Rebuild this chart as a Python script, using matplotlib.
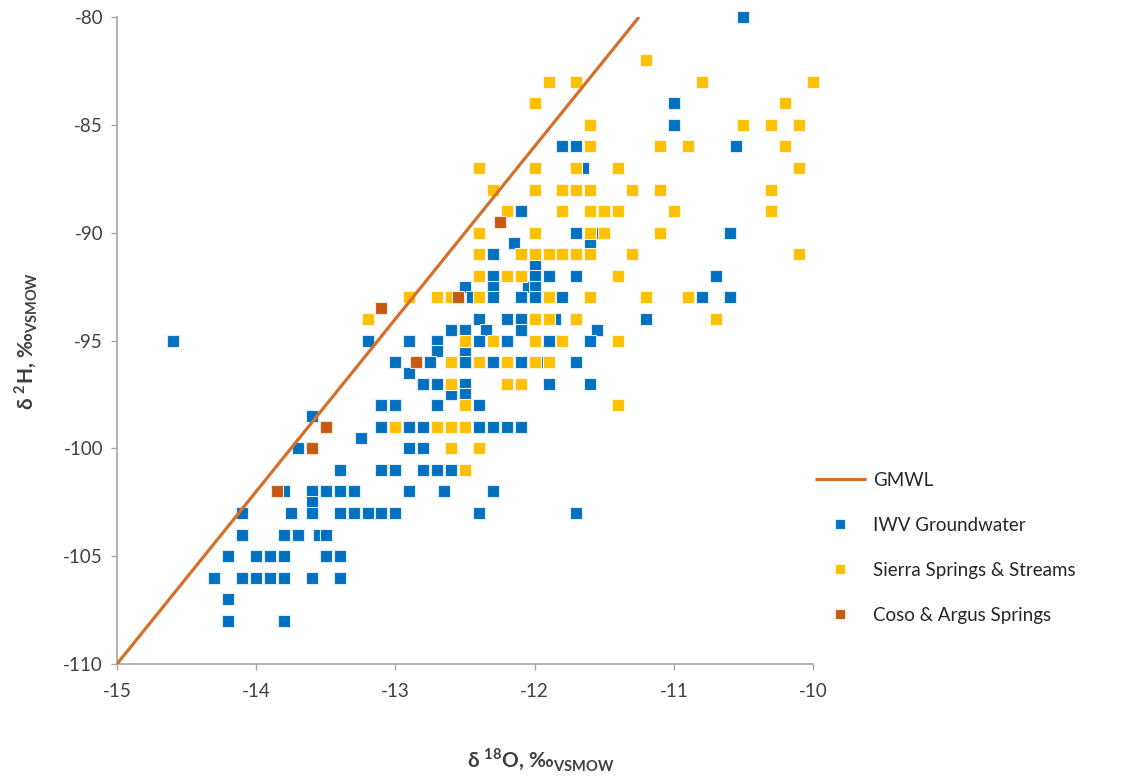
import matplotlib
matplotlib.use("Agg")
import matplotlib.pyplot as plt

plt.rcParams['font.family'] = ['Lato', 'DejaVu Sans']
plt.rcParams['mathtext.fontset'] = 'custom'
plt.rcParams['mathtext.rm'] = 'Lato'
plt.rcParams['mathtext.bf'] = 'Lato:bold'
plt.rcParams['axes.unicode_minus'] = False

# global meteoric water line end points
gmwl_o18 = [-15.0, -11.25]
gmwl_h2 = [-110.0, -80.0]

# IWV groundwater (d18O, d2H)
iwv_o18 = [-10.5, -11.0, -11.0, -11.8, -11.7, -10.55, -11.65, -12.1,
           -11.7, -11.55, -10.6, -12.15, -11.6, -12.3, -12.0,
           -12.3, -12.0, -11.9, -11.7, -10.7,
           -12.5, -12.3, -12.05, -12.0,
           -12.45, -12.3, -12.1, -12.0, -11.8, -11.2, -10.8, -10.6,
           -12.4, -12.2, -12.1, -11.85, -11.7, -11.2,
           -12.6, -12.5, -12.35, -12.1, -11.55,
           -14.6, -13.2, -12.9, -12.7, -12.4, -12.2, -11.9, -11.6,
           -12.7, -12.5,
           -13.0, -12.75, -12.5, -12.3, -12.1, -11.95, -11.7,
           -12.9,
           -12.8, -12.7, -12.5, -11.9, -11.6,
           -12.6, -12.5,
           -13.1, -13.0, -12.7, -12.4,
           -13.6,
           -13.1, -12.9, -12.8, -12.4, -12.3, -12.2, -12.1,
           -13.25,
           -13.7, -12.9, -12.8,
           -13.4, -13.1, -13.0, -12.8, -12.7, -12.6,
           -13.8, -13.6, -13.5, -13.4, -13.3, -12.9, -12.65, -12.3, -13.6,
           -14.1, -13.75, -13.6, -13.4, -13.3, -13.2, -13.1, -13.0, -12.4, -11.7,
           -14.1, -13.8, -13.7, -13.55, -13.5,
           -14.2, -14.0, -13.9, -13.8, -13.5, -13.4,
           -14.3, -14.1, -14.0, -13.9, -13.8, -13.6, -13.4,
           -14.2,
           -14.2, -13.8]
iwv_h2 = [-80, -84, -85, -86, -86, -86, -87, -89,
          -90, -90, -90, -90.5, -90.5, -91, -91.5,
          -92, -92, -92, -92, -92,
          -92.5, -92.5, -92.5, -92.5,
          -93, -93, -93, -93, -93, -93, -93, -93,
          -94, -94, -94, -94, -94, -94,
          -94.5, -94.5, -94.5, -94.5, -94.5,
          -95, -95, -95, -95, -95, -95, -95, -95,
          -95.5, -95.5,
          -96, -96, -96, -96, -96, -96, -96,
          -96.5,
          -97, -97, -97, -97, -97,
          -97.5, -97.5,
          -98, -98, -98, -98,
          -98.5,
          -99, -99, -99, -99, -99, -99, -99,
          -99.5,
          -100, -100, -100,
          -101, -101, -101, -101, -101, -101,
          -102, -102, -102, -102, -102, -102, -102, -102, -102.5,
          -103, -103, -103, -103, -103, -103, -103, -103, -103, -103,
          -104, -104, -104, -104, -104,
          -105, -105, -105, -105, -105, -105,
          -106, -106, -106, -106, -106, -106, -106,
          -107,
          -108, -108]

# Sierra springs & streams
sierra_o18 = [-11.2,
              -11.9, -11.7, -10.8, -10.0,
              -12.0, -10.2,
              -11.6, -10.5, -10.3, -10.1,
              -11.6, -11.1, -10.9, -10.2,
              -12.4, -12.0, -11.7, -11.4, -10.1,
              -12.3, -12.0, -11.8, -11.7, -11.6, -11.3, -11.1, -10.3,
              -12.2, -11.8, -11.6, -11.5, -11.4, -11.0, -10.3,
              -12.4, -12.0, -11.6, -11.5, -11.1,
              -12.4, -12.1, -12.0, -11.9, -11.8, -11.7, -11.6, -11.3, -10.1,
              -12.4, -12.2, -12.1, -11.4,
              -12.9, -12.7, -12.6, -12.4, -11.9, -11.6, -11.2, -10.9,
              -13.2, -12.0, -11.9, -11.7, -10.7,
              -12.5, -12.3, -12.0, -11.8, -11.4,
              -12.6, -12.4, -12.2, -12.0, -11.9,
              -12.6, -12.2, -12.1,
              -12.5, -11.4,
              -13.0, -12.7, -12.6, -12.5,
              -12.6, -12.4,
              -12.5]
sierra_h2 = [-82,
             -83, -83, -83, -83,
             -84, -84,
             -85, -85, -85, -85,
             -86, -86, -86, -86,
             -87, -87, -87, -87, -87,
             -88, -88, -88, -88, -88, -88, -88, -88,
             -89, -89, -89, -89, -89, -89, -89,
             -90, -90, -90, -90, -90,
             -91, -91, -91, -91, -91, -91, -91, -91, -91,
             -92, -92, -92, -92,
             -93, -93, -93, -93, -93, -93, -93, -93,
             -94, -94, -94, -94, -94,
             -95, -95, -95, -95, -95,
             -96, -96, -96, -96, -96,
             -97, -97, -97,
             -98, -98,
             -99, -99, -99, -99,
             -100, -100,
             -101]

# Coso & Argus springs
coso_o18 = [-12.25, -13.1, -12.55, -12.85, -13.5, -13.6, -13.85]
coso_h2 = [-89.5, -93.5, -93, -96, -99, -100, -102]

x_ticks = [-15, -14, -13, -12, -11, -10]
y_ticks = [-110, -105, -100, -95, -90, -85, -80]

fig = plt.figure(figsize=(11.4, 7.77), dpi=100)
ax = fig.add_axes([0.1026, 0.1454, 0.6106, 0.8327])

# squares with a thin pale rim so neighbours stay separate
mk = dict(ls='none', marker='s', ms=9.2, mew=0.8, clip_on=False)
ax.plot(iwv_o18, iwv_h2, color='#0070C0', mec='#DCEBF7',
        label='IWV Groundwater', zorder=3, **mk)
ax.plot(sierra_o18, sierra_h2, color='#FFC000', mec='#FFF4D6',
        label='Sierra Springs & Streams', zorder=4, **mk)
ax.plot(coso_o18, coso_h2, color='#C55A11', mec='#F6E2D6',
        label='Coso & Argus Springs', zorder=5, **mk)
ax.plot(gmwl_o18, gmwl_h2, color='#D5702A', lw=2.3, label='GMWL', zorder=6,
        solid_capstyle='butt')

ax.set_xlim(-15, -10)
ax.set_ylim(-110, -80)
ax.set_xticks(x_ticks)
ax.set_yticks(y_ticks)
ax.tick_params(axis='both', direction='out', length=4, width=1,
               color='#A6A6A6', labelsize=13.5, labelcolor='#404040')
ax.tick_params(axis='x', pad=10)
ax.tick_params(axis='y', pad=6)

for side in ['top', 'right']:
    ax.spines[side].set_visible(False)
for side in ['left', 'bottom']:
    ax.spines[side].set_color('#A6A6A6')
    ax.spines[side].set_linewidth(1.2)

ax.set_xlabel(r'δ $^{\mathbf{18}}$O, ‰$_{\mathbf{VSMOW}}$', fontsize=15,
              fontweight='bold', color='#404040')
ax.set_ylabel(r'δ $^{\mathbf{2}}$H, ‰$_{\mathbf{VSMOW}}$', fontsize=15,
              fontweight='bold', color='#404040')
ax.xaxis.set_label_coords(0.608, -0.128)
ax.yaxis.set_label_coords(-0.11, 0.5)

handles, labels = ax.get_legend_handles_labels()
order = [3, 0, 1, 2]
leg = fig.legend([handles[i] for i in order], [labels[i] for i in order],
                 loc='center left', bbox_to_anchor=(0.715, 0.295),
                 frameon=False, fontsize=13.5, labelspacing=1.5,
                 handlelength=2.7, handletextpad=0.4, borderpad=0,
                 borderaxespad=0, markerscale=0.8)
for t in leg.get_texts():
    t.set_color('#262626')

fig.savefig('out.png', dpi=100)
